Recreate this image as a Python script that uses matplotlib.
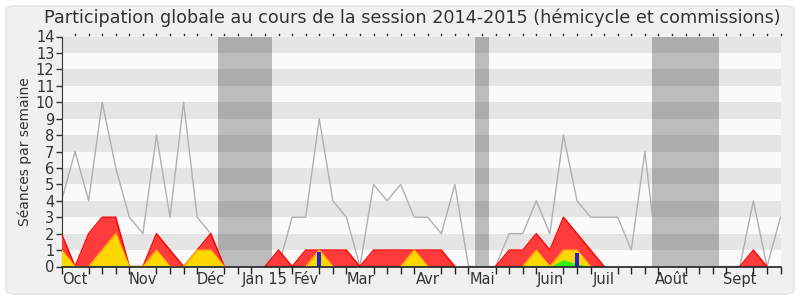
import matplotlib
matplotlib.use("Agg")
import matplotlib.pyplot as plt
from matplotlib.patches import FancyBboxPatch
import numpy as np

# weekly values, session 2014-2015 (54 weeks)
weeks = np.arange(54)
total = [4, 7, 4, 10, 6, 3, 2, 8, 3, 10, 3, 2, 0, 0, 0, 0, 0, 3, 3, 9,
         4, 3, 0, 5, 4, 5, 3, 3, 2, 5, 0, 0, 0, 2, 2, 4, 2, 8, 4, 3,
         3, 3, 1, 7, 0, 0, 0, 0, 0, 0, 0, 4, 0, 3]
commission = [2, 0, 2, 3, 3, 0, 0, 2, 1, 0, 1, 2, 0, 0, 0, 0, 1, 0, 1, 1,
              1, 1, 0, 1, 1, 1, 1, 1, 1, 0, 0, 0, 0, 1, 1, 2, 1, 3, 2, 1,
              0, 0, 0, 0, 0, 0, 0, 0, 0, 0, 0, 1, 0, 0]
hemicycle = [1, 0, 0, 1, 2, 0, 0, 1, 0, 0, 1, 1, 0, 0, 0, 0, 0, 0, 0, 1,
             0, 0, 0, 0, 0, 0, 1, 0, 0, 0, 0, 0, 0, 0, 0, 1, 0, 1, 1, 0,
             0, 0, 0, 0, 0, 0, 0, 0, 0, 0, 0, 0, 0, 0]
interventions = [0, 0, 0, 0.05, 0.08, 0, 0, 0.06, 0, 0, 0.03, 0.06, 0, 0, 0, 0, 0, 0, 0, 0.05,
                 0, 0, 0, 0, 0.03, 0, 0.04, 0, 0, 0, 0, 0, 0, 0, 0.02, 0.08, 0, 0.42, 0.15, 0,
                 0, 0, 0, 0, 0, 0, 0, 0, 0, 0, 0, 0, 0, 0]
questions = {19: 0.87, 38: 0.85}
vacances = [(11.5, 15.5), (30.5, 31.5), (43.5, 48.5)]
month_pos = [1, 6, 11, 15, 18, 22, 27, 31, 36, 40, 45, 50]
month_lab = ["Oct", "Nov", "Déc", "Jan 15", "Fév", "Mar", "Avr", "Mai", "Juin", "Juil", "Août", "Sept"]


def edge(vals):
    # hide the outline where the area is flat at zero
    v = np.array(vals, dtype=float)
    out = v.copy()
    for i in range(len(v)):
        left = v[i - 1] if i > 0 else 0
        right = v[i + 1] if i < len(v) - 1 else 0
        if v[i] == 0 and left == 0 and right == 0:
            out[i] = np.nan
    return out


plt.rcParams['font.family'] = ['DejaVu Sans']
fig = plt.figure(figsize=(8, 3), dpi=100)
fig.patch.set_facecolor("white")
fig.patches.append(FancyBboxPatch((6 / 800, 6 / 300), 788 / 800, 288 / 300,
                                  boxstyle="round,pad=0,rounding_size=0.012",
                                  transform=fig.transFigure, facecolor="#f0f0f0",
                                  edgecolor="#e2e2e2", linewidth=1, zorder=-10))
ax = fig.add_axes([61.5 / 800, 33.5 / 300, 719 / 800, 230 / 300])
ax.set_xlim(0, 53)
ax.set_ylim(0, 14)

# striped background
for k in range(14):
    c = "#fafafa" if k % 2 == 0 else "#e5e5e5"
    ax.axhspan(k, k + 1, color=c, lw=0, zorder=0)

ax.plot(weeks, total, color="#b0b0b0", lw=1, zorder=1)

# holidays
for a, b in vacances:
    for k in range(14):
        c = "#bcbcbc" if k % 2 == 0 else "#acacac"
        ax.fill_between([a, b], k, k + 1, color=c, lw=0, zorder=2)

ax.fill_between(weeks, commission, color="#ff3b3b", lw=0, zorder=3)
ax.plot(weeks, edge(commission), color="#ff0000", lw=1, zorder=3)
ax.fill_between(weeks, hemicycle, color="#ffd700", lw=0, zorder=4)
ax.plot(weeks, edge(hemicycle), color="#ffcc00", lw=0.8, zorder=4)
ax.fill_between(weeks, interventions, color="#33ee11", lw=0, zorder=5)
ax.bar(list(questions.keys()), list(questions.values()), width=0.33,
       color="#2222dd", zorder=6)

ax.set_yticks(range(15))
ax.set_xticks(weeks, minor=True)
ax.set_xticks(month_pos)
ax.set_xticklabels(month_lab)
ax.tick_params(axis="x", which="major", length=0, pad=4, labelsize=10.5, colors="#333333")
ax.tick_params(axis="x", which="minor", length=5, width=1, color="#222222",
               top=False, bottom=True)
ax.tick_params(axis="y", length=4, width=1, color="#333333", labelsize=10.5,
               labelcolor="#333333", pad=1)
for side in ["top", "right"]:
    ax.spines[side].set_visible(False)
ax.spines["left"].set_color("#333333")
ax.spines["bottom"].set_color("#222222")
ax.spines["bottom"].set_linewidth(1.2)
ax.spines["bottom"].set_zorder(7)

# top dotted ticks
for w in weeks[1:]:
    ax.plot([w, w], [14.08, 14.18], color="#333333", lw=1, clip_on=False)

ax.set_ylabel("Séances par semaine", fontsize=10, color="#333333", labelpad=3)
fig.text(0.515, 1 - 18 / 300, "Participation globale au cours de la session 2014-2015 (hémicycle et commissions)",
         ha="center", va="center", fontsize=12.7, color="#333333")

fig.savefig("out.png", dpi=100)
